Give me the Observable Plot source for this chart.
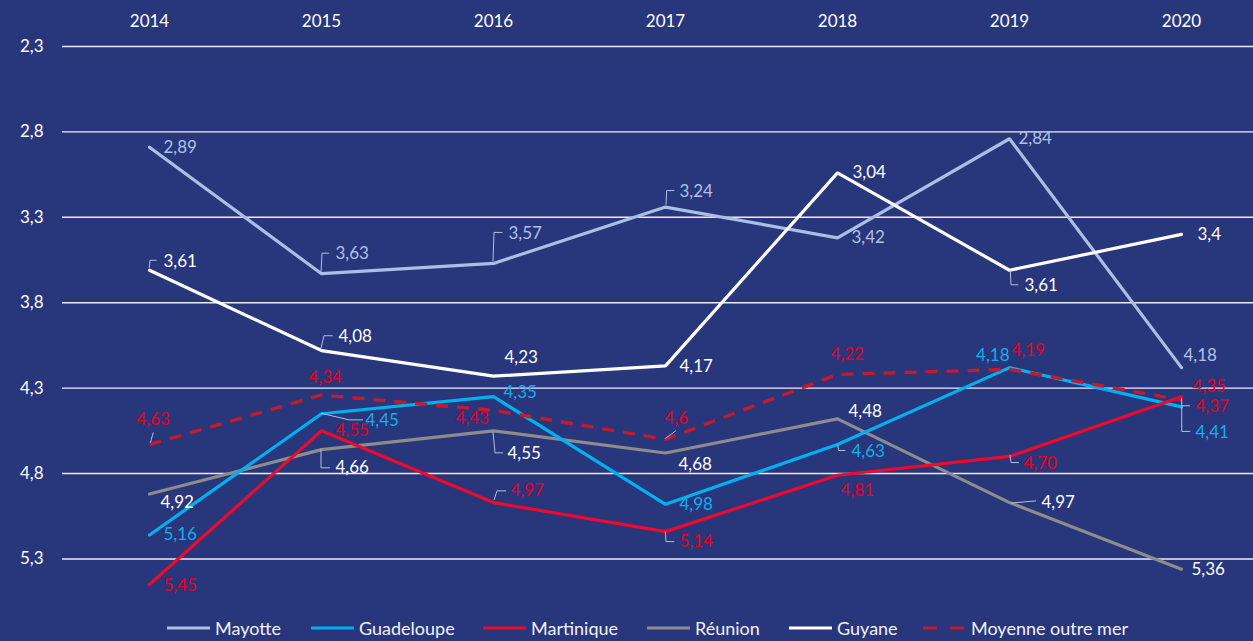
<!DOCTYPE html>
<html><head><meta charset="utf-8">
<script src="https://cdn.jsdelivr.net/npm/d3@7"></script>
<script src="https://cdn.jsdelivr.net/npm/@observablehq/plot@0.6"></script>
<style>
html,body{margin:0;padding:0;background:#28367c;width:1253px;height:641px;overflow:hidden;font-family:Lato,"Open Sans",sans-serif;}
#chart svg{display:block;}
#legend{position:relative;height:46px;color:#f2f2f2;font-size:18px;font-family:Lato,sans-serif;}
.item{position:absolute;top:0;height:46px;display:flex;align-items:center;white-space:nowrap;}
.item svg{margin-right:5px;display:block;}
</style></head><body><div id="chart"></div><div id="legend"></div>
<script>
// ---- data ----
const years = ["2014", "2015", "2016", "2017", "2018", "2019", "2020"];
const mayotte    = [2.89, 3.63, 3.57, 3.24, 3.42, 2.84, 4.18];
const guadeloupe = [5.16, 4.45, 4.35, 4.98, 4.63, 4.18, 4.41];
const martinique = [5.45, 4.55, 4.97, 5.14, 4.81, 4.70, 4.35];
const reunion    = [4.92, 4.66, 4.55, 4.68, 4.48, 4.97, 5.36];
const guyane     = [3.61, 4.08, 4.23, 4.17, 3.04, 3.61, 3.4];
const moyenne    = [4.63, 4.34, 4.43, 4.6, 4.22, 4.19, 4.37];
const yTicks = [2.3, 2.8, 3.3, 3.8, 4.3, 4.8, 5.3];
const seriesNames = ["Mayotte", "Guadeloupe", "Martinique", "Réunion", "Guyane", "Moyenne outre mer"];
const seriesValues = [mayotte, guadeloupe, martinique, reunion, guyane, moyenne];

// ---- styles ----
const styles = {
  "Mayotte":           {stroke: "#a9bfe3", label: "#b0c1e6"},
  "Guadeloupe":        {stroke: "#00b0f0", label: "#14aeea"},
  "Martinique":        {stroke: "#ee0a2c", label: "#e8001c", decimals: 2},
  "Réunion":           {stroke: "#8c8c8c", label: "#ffffff"},
  "Guyane":            {stroke: "#ffffff", label: "#ffffff"},
  "Moyenne outre mer": {stroke: "#c41a2e", label: "#e8001c", dash: "12,9"}
};
// legend item left edges (px)
const legendLeft = [167, 311, 483, 647, 789, 923];
// label placement (pixel offsets from the point): [dx, dy, anchor]
const labelLayout = {
  "Mayotte":           [[14,0],[14,-20],[15,-30],[14,-15.5],[14,0],[9,0],[2,-12]],
  "Guadeloupe":        [[14,0],[44,6.6],[10,-4],[14,0],[14,7],[0,-12,"end"],[14,25.5]],
  "Martinique":        [[14,1],[14,0],[17,-11.7],[14,10],[3,15],[14,7.5],[11,-10]],
  "Réunion":           [[11,8.5],[14,18],[14,23],[13,12],[11,-7],[32,0],[10,0]],
  "Guyane":            [[14,-8.5],[17,-14],[11,-18.5],[14,1],[15,0],[15,15],[16,0]],
  "Moyenne outre mer": [[-13,-24.5],[-13,-17],[-38,8.5],[-1,-21],[-7,-20],[2,-19],[14,6]]
};
// leader lines (pixel offsets from the point)
const leaderLayout = {
  "Mayotte|2015": [[0,-1],[1,-20],[8,-20]],
  "Mayotte|2016": [[0,-1.5],[1,-30.5],[9.5,-30.5]],
  "Mayotte|2017": [[1,-2],[1.7,-16],[9.3,-16]],
  "Guyane|2014": [[0.3,-2],[1,-9.5],[7.7,-9.5]],
  "Guyane|2015": [[0,-2],[3,-14.3],[11.7,-14.3]],
  "Guyane|2019": [[1.3,0.6],[2,15],[9.3,15]],
  "Guadeloupe|2015": [[0,0],[28,6.6],[42,6.6]],
  "Guadeloupe|2018": [[0.7,0.8],[1.7,6.5],[8.3,6.5]],
  "Guadeloupe|2020": [[0.7,-8.3],[0.7,25],[9.3,25]],
  "Moyenne outre mer|2020": [[1,6.2],[9,6.2]],
  "Réunion|2015": [[0,0],[0,18.7],[9,18.7]],
  "Réunion|2016": [[0,1.5],[2,22.5],[10,22.5]],
  "Réunion|2019": [[2,1],[27,-1.2]],
  "Martinique|2016": [[1,-2],[4,-11.2],[13,-11.2]],
  "Martinique|2017": [[0.3,0.5],[1,10.5],[9.3,10.5]],
  "Martinique|2019": [[1,-1],[2,6.6],[10,6.6]],
  "Moyenne outre mer|2014": [[1.3,-1.2],[4.3,-11.5]],
  "Moyenne outre mer|2017": [[0.3,-0.3],[11,-8.3]]
};
const drawOrder = ["Réunion", "Mayotte", "Guadeloupe", "Martinique", "Guyane", "Moyenne outre mer"];

const fmt = (v, dec) => (dec ? v.toFixed(dec) : String(v)).replace(".", ",");

const seriesData = {};
seriesNames.forEach((name, i) => {
  seriesData[name] = years.map((year, j) => ({year, value: seriesValues[i][j], series: name}));
});

const marks = [
  Plot.ruleY(yTicks, {stroke: "#ecedf4", strokeWidth: 1.4}),
  Plot.axisY({ticks: yTicks, tickSize: 0, tickPadding: 19, tickFormat: d => fmt(d), fill: "#ffffff", fontSize: 17, label: null}),
  Plot.axisX({anchor: "top", tickSize: 0, tickPadding: 20, fill: "#ffffff", fontSize: 17, label: null})
];
for (const name of drawOrder) {
  const st = styles[name];
  marks.push(Plot.line(seriesData[name], {
    x: "year", y: "value", stroke: st.stroke, strokeWidth: st.dash ? 3.4 : 3.2,
    strokeDasharray: st.dash || null, strokeLinecap: st.dash ? "butt" : "round", strokeLinejoin: "miter"
  }));
}
for (const name of seriesNames) {
  const st = styles[name];
  seriesData[name].forEach((d, j) => {
    const [dx, dy, anchor] = labelLayout[name][j];
    marks.push(Plot.text([d], {
      x: "year", y: "value", text: dd => fmt(dd.value, st.decimals),
      dx, dy, textAnchor: anchor || "start", fill: st.label, fontSize: 17
    }));
  });
}

const chart = Plot.plot({
  width: 1253, height: 605,
  marginLeft: 62, marginRight: -14, marginTop: 46, marginBottom: 12.4,
  style: {background: "transparent", fontFamily: "Lato, 'Open Sans', sans-serif", fontSize: "17px", color: "#ffffff"},
  x: {type: "point", domain: years, padding: 0.5},
  y: {domain: [2.3, 5.5], reverse: true},
  marks
});
document.getElementById("chart").append(chart);

// leader lines drawn through the plot's own scales
const sx = chart.scale("x"), sy = chart.scale("y");
const g = d3.select(chart).append("g").attr("fill", "none").attr("stroke", "#b4bde0").attr("stroke-width", 1);
for (const key in leaderLayout) {
  const [name, year] = key.split("|");
  const i = seriesNames.indexOf(name);
  const v = seriesValues[i][years.indexOf(year)];
  const px = sx.apply(year), py = sy.apply(v);
  g.append("polyline").attr("points", leaderLayout[key].map(([dx, dy]) => `${px + dx},${py + dy}`).join(" "));
}

// legend
const legend = d3.select("#legend");
seriesNames.forEach((name, k) => {
  const st = styles[name];
  const item = legend.append("div").attr("class", "item").style("left", legendLeft[k] + "px");
  const s = item.append("svg").attr("width", 43).attr("height", 8);
  s.append("line").attr("x1", 0).attr("x2", 43).attr("y1", 4).attr("y2", 4)
    .attr("stroke", st.stroke).attr("stroke-width", 3)
    .attr("stroke-dasharray", st.dash ? "14,13" : null);
  item.append("span").text(name);
});
</script></body></html>
